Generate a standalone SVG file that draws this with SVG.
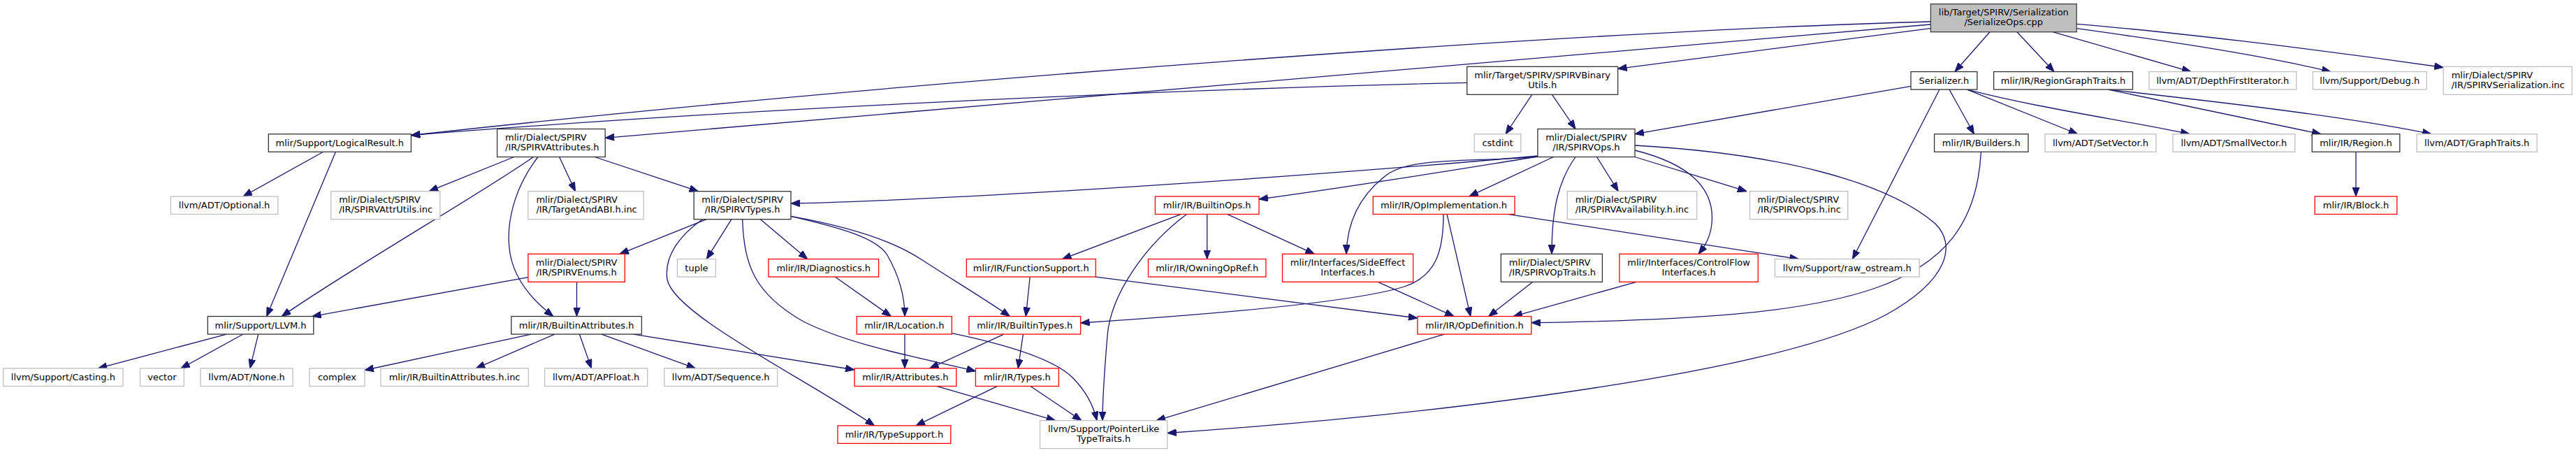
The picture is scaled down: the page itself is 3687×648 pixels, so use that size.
<svg xmlns="http://www.w3.org/2000/svg" width="3687" height="648" viewBox="0 0 3687 648">
<defs>
<marker id="ah" markerUnits="userSpaceOnUse" viewBox="0 0 13 10" refX="13" refY="5" markerWidth="13" markerHeight="10" orient="auto">
<path d="M0,0 L13,5 L0,10 z" fill="#191970" stroke="#191970" stroke-width="1"/>
</marker>
<style>
rect{fill:#ffffff;stroke-width:1.3}
.rt{fill:#bfbfbf;stroke:#404040}
.bk{stroke:#333333}
.gy{stroke:#bfbfbf}
.rd{stroke:#ff0000}
text{font-family:"DejaVu Sans","Liberation Sans",sans-serif;font-size:13px;fill:#000000}
.c{text-anchor:middle}
#edges path{fill:none;stroke:#191970;stroke-width:1.3;marker-end:url(#ah)}
</style>
</defs>
<rect x="0" y="0" width="3687" height="648" style="fill:#ffffff;stroke:none"/>
<g id="edges">
<path d="M2763,31 C2250,45 1300,115 588.4,193.5"/>
<path d="M2763,35 L866.2,197.3"/>
<path d="M2763,40.7 L2315.6,98.3"/>
<path d="M2848,45.7 L2798,102.55"/>
<path d="M2887,45.7 L2940,102.55"/>
<path d="M2938,45.7 L3136,102.55"/>
<path d="M2972.2,40.7 C3060,53 3220,75 3336,102.55"/>
<path d="M2972.2,34.3 C3100,45 3300,68 3497.2,96.5"/>
<path d="M2099.7,118.3 C1600,130 1000,160 588.4,193.5"/>
<path d="M2192.7,135.3 L2155,191.75"/>
<path d="M2221.5,135.3 L2255,184.5"/>
<path d="M2735,123.3 L2340,191.7"/>
<path d="M2776,128.05 L2651.5,370.55"/>
<path d="M2790,128.05 L2825.5,191.75"/>
<path d="M2815.6,128.05 L2973.8,191.75"/>
<path d="M2815.6,128.05 C2920,155 3040,172 3134,191.75"/>
<path d="M3017.3,128.05 L3322,191.75"/>
<path d="M3017.3,128.05 C3150,143 3350,165 3480,191.75"/>
<path d="M3372,217.25 L3372,280.95"/>
<path d="M2835.4,217.25 C2825,420 2650,455 2191.8,461.7"/>
<path d="M462.6,217.25 L348,280.95"/>
<path d="M480.4,217.25 L381.6,452.55"/>
<path d="M735.7,224.5 L614,273.7"/>
<path d="M763.4,224.5 C700,270 500,385 403.3,452.55"/>
<path d="M770,224.5 C735,270 725,320 729,355 C733,395 760,428 792,452.55"/>
<path d="M800.6,224.5 L823.5,273.7"/>
<path d="M851.2,224.5 L999.5,273.7"/>
<path d="M2200.9,223 C1900,250 1400,285 1132,291"/>
<path d="M2200.9,224 C2100,240 1950,265 1802,285"/>
<path d="M2200.9,224.3 C2100,232 2020,225 1985,250 C1945,280 1928,320 1927,363.3"/>
<path d="M2223.4,224.5 L2102.8,280.95"/>
<path d="M2255,224.5 C2230,260 2221,300 2221,363.3"/>
<path d="M2285.5,224.5 L2316.3,273.7"/>
<path d="M2340,224.5 L2500,273.7"/>
<path d="M2340,215 C2420,235 2455,270 2450,320 C2448,340 2440,352 2431,363.3"/>
<path d="M2340,208 C2550,220 2700,260 2770,320 C2800,350 2790,400 2700,450 C2550,530 2100,590 1670.8,619.5"/>
<path d="M1690.5,306.45 L1520.5,370.55"/>
<path d="M1698.4,306.45 C1640,350 1590,420 1585,480 C1580,540 1578,570 1578,601.6"/>
<path d="M1727.7,306.45 L1727.7,370.55"/>
<path d="M1756.6,306.45 L1881.4,363.3"/>
<path d="M2071,306.45 L2104.8,452.55"/>
<path d="M2066,306.45 C2066,360 2055,395 2010,410 C1930,435 1700,452 1546.6,462"/>
<path d="M2158.2,306.45 L2574.4,370.55"/>
<path d="M1474.2,396.05 L1468.3,452.55"/>
<path d="M1568.3,396.05 L2028.9,455"/>
<path d="M1972.3,403.3 L2081,452.55"/>
<path d="M2193.8,403.3 L2130.6,452.55"/>
<path d="M2342,403.3 L2166,452.55"/>
<path d="M2067.2,478.05 L1655,601.6"/>
<path d="M1011.3,313.7 L887,363.3"/>
<path d="M1005.4,313.7 C975,335 950,365 955,400 C965,450 1150,540 1251.6,608.85"/>
<path d="M1047,313.7 L1011.3,370.55"/>
<path d="M1062.7,313.7 C1065,380 1080,420 1150,460 C1220,495 1320,512 1396.4,531"/>
<path d="M1088.4,313.7 L1155.7,370.55"/>
<path d="M1132,309.3 C1200,325 1255,340 1270,365 C1290,400 1295,430 1295,452.55"/>
<path d="M1132,309.3 C1220,325 1280,345 1320,372 C1360,398 1410,428 1445.4,452.55"/>
<path d="M1195.2,396.05 L1275.4,452.55"/>
<path d="M825.5,403.3 L825.5,452.55"/>
<path d="M755.9,396.7 L446.8,452.55"/>
<path d="M324.2,478.05 L140.4,526.95"/>
<path d="M348,478.05 L259,526.95"/>
<path d="M369.7,478.05 L357.8,526.95"/>
<path d="M760.3,478.05 L522,529.5"/>
<path d="M793.9,478.05 L681.2,526.95"/>
<path d="M829.4,478.05 L846.5,526.95"/>
<path d="M861,478.05 L995.5,526.95"/>
<path d="M906.6,478.05 L1223,529"/>
<path d="M1295,478.05 L1295,526.95"/>
<path d="M1362.3,476.7 C1450,495 1510,515 1535,540 C1555,560 1565,580 1570,601.6"/>
<path d="M1436.7,478.05 L1330.7,526.95"/>
<path d="M1464.4,478.05 L1457.2,526.95"/>
<path d="M1340.6,552.45 L1510.6,601.6"/>
<path d="M1475,552.45 L1548,601.6"/>
<path d="M1427.6,552.45 L1311,608.85"/>
</g>
<g id="n_root"><rect class="rt" x="2763.4" y="5.7" width="208.8" height="40"/><text class="c"><tspan x="2867.8" y="22.2">lib/Target/SPIRV/Serialization</tspan><tspan x="2867.8" y="36.2">/SerializeOps.cpp</tspan></text></g>
<g id="n_logres"><rect class="bk" x="384.3" y="191.75" width="204.1" height="25.5"/><text class="c" x="486.35" y="209">mlir/Support/LogicalResult.h</text></g>
<g id="n_spirvattr"><rect class="bk" x="711.6" y="184.5" width="154.6" height="40"/><text><tspan x="723.1" y="201">mlir/Dialect/SPIRV</tspan><tspan x="723.1" y="215">/IR/SPIRVAttributes.h</tspan></text></g>
<g id="n_binutils"><rect class="bk" x="2099.7" y="95.3" width="215.9" height="40"/><text class="c"><tspan x="2207.65" y="111.8">mlir/Target/SPIRV/SPIRVBinary</tspan><tspan x="2207.65" y="125.8">Utils.h</tspan></text></g>
<g id="n_serializer"><rect class="bk" x="2735" y="102.55" width="94.9" height="25.5"/><text class="c" x="2782.45" y="119.8">Serializer.h</text></g>
<g id="n_rgt"><rect class="bk" x="2853.6" y="102.55" width="198.9" height="25.5"/><text class="c" x="2953.05" y="119.8">mlir/IR/RegionGraphTraits.h</text></g>
<g id="n_dfi"><rect class="gy" x="3076" y="102.55" width="210.8" height="25.5"/><text class="c" x="3181.4" y="119.8">llvm/ADT/DepthFirstIterator.h</text></g>
<g id="n_debug"><rect class="gy" x="3310.4" y="102.55" width="162.8" height="25.5"/><text class="c" x="3391.8" y="119.8">llvm/Support/Debug.h</text></g>
<g id="n_serinc"><rect class="gy" x="3497.2" y="95.3" width="184" height="40"/><text><tspan x="3508.7" y="111.8">mlir/Dialect/SPIRV</tspan><tspan x="3508.7" y="125.8">/IR/SPIRVSerialization.inc</tspan></text></g>
<g id="n_optional"><rect class="gy" x="244.4" y="280.95" width="153.4" height="25.5"/><text class="c" x="321.1" y="298.2">llvm/ADT/Optional.h</text></g>
<g id="n_llvm"><rect class="bk" x="297.3" y="452.55" width="151.5" height="25.5"/><text class="c" x="373.05" y="469.8">mlir/Support/LLVM.h</text></g>
<g id="n_attrutils"><rect class="gy" x="473.7" y="273.7" width="156.1" height="40"/><text><tspan x="485.2" y="290.2">mlir/Dialect/SPIRV</tspan><tspan x="485.2" y="304.2">/IR/SPIRVAttrUtils.inc</tspan></text></g>
<g id="n_builtinattrs"><rect class="bk" x="731.8" y="452.55" width="186.6" height="25.5"/><text class="c" x="825.1" y="469.8">mlir/IR/BuiltinAttributes.h</text></g>
<g id="n_targetabi"><rect class="gy" x="755.9" y="273.7" width="165.3" height="40"/><text><tspan x="767.4" y="290.2">mlir/Dialect/SPIRV</tspan><tspan x="767.4" y="304.2">/IR/TargetAndABI.h.inc</tspan></text></g>
<g id="n_spirvtypes"><rect class="bk" x="993.2" y="273.7" width="138.8" height="40"/><text class="c"><tspan x="1062.6" y="290.2">mlir/Dialect/SPIRV</tspan><tspan x="1062.6" y="304.2">/IR/SPIRVTypes.h</tspan></text></g>
<g id="n_cstdint"><rect class="gy" x="2110.3" y="191.75" width="66.5" height="25.5"/><text class="c" x="2143.55" y="209">cstdint</text></g>
<g id="n_spirvops"><rect class="bk" x="2200.9" y="184.5" width="139.1" height="40"/><text class="c"><tspan x="2270.45" y="201">mlir/Dialect/SPIRV</tspan><tspan x="2270.45" y="215">/IR/SPIRVOps.h</tspan></text></g>
<g id="n_builders"><rect class="bk" x="2768.6" y="191.75" width="134.4" height="25.5"/><text class="c" x="2835.8" y="209">mlir/IR/Builders.h</text></g>
<g id="n_setvector"><rect class="gy" x="2927" y="191.75" width="159" height="25.5"/><text class="c" x="3006.5" y="209">llvm/ADT/SetVector.h</text></g>
<g id="n_smallvector"><rect class="gy" x="3110" y="191.75" width="174.8" height="25.5"/><text class="c" x="3197.4" y="209">llvm/ADT/SmallVector.h</text></g>
<g id="n_region"><rect class="bk" x="3309.2" y="191.75" width="125.6" height="25.5"/><text class="c" x="3372" y="209">mlir/IR/Region.h</text></g>
<g id="n_graphtraits"><rect class="gy" x="3459.2" y="191.75" width="172" height="25.5"/><text class="c" x="3545.2" y="209">llvm/ADT/GraphTraits.h</text></g>
<g id="n_builtinops"><rect class="rd" x="1653.4" y="280.95" width="148.6" height="25.5"/><text class="c" x="1727.7" y="298.2">mlir/IR/BuiltinOps.h</text></g>
<g id="n_opimpl"><rect class="rd" x="1965.2" y="280.95" width="202.8" height="25.5"/><text class="c" x="2066.6" y="298.2">mlir/IR/OpImplementation.h</text></g>
<g id="n_availability"><rect class="gy" x="2243.2" y="273.7" width="185.5" height="40"/><text><tspan x="2254.7" y="290.2">mlir/Dialect/SPIRV</tspan><tspan x="2254.7" y="304.2">/IR/SPIRVAvailability.h.inc</tspan></text></g>
<g id="n_opsinc"><rect class="gy" x="2504.5" y="273.7" width="140.3" height="40"/><text><tspan x="2515.5" y="290.2">mlir/Dialect/SPIRV</tspan><tspan x="2515.5" y="304.2">/IR/SPIRVOps.h.inc</tspan></text></g>
<g id="n_block"><rect class="rd" x="3313.2" y="280.95" width="117.6" height="25.5"/><text class="c" x="3372" y="298.2">mlir/IR/Block.h</text></g>
<g id="n_enums"><rect class="rd" x="755.9" y="363.3" width="138.4" height="40"/><text class="c"><tspan x="825.1" y="379.8">mlir/Dialect/SPIRV</tspan><tspan x="825.1" y="393.8">/IR/SPIRVEnums.h</tspan></text></g>
<g id="n_tuple"><rect class="gy" x="969.4" y="370.55" width="55" height="25.5"/><text class="c" x="996.9" y="387.8">tuple</text></g>
<g id="n_diagnostics"><rect class="rd" x="1099.9" y="370.55" width="157.7" height="25.5"/><text class="c" x="1178.75" y="387.8">mlir/IR/Diagnostics.h</text></g>
<g id="n_funcsupport"><rect class="rd" x="1383.3" y="370.55" width="185" height="25.5"/><text class="c" x="1475.8" y="387.8">mlir/IR/FunctionSupport.h</text></g>
<g id="n_owning"><rect class="rd" x="1643.5" y="370.55" width="168.4" height="25.5"/><text class="c" x="1727.7" y="387.8">mlir/IR/OwningOpRef.h</text></g>
<g id="n_sideeffect"><rect class="rd" x="1835.5" y="363.3" width="187.1" height="40"/><text class="c"><tspan x="1929.05" y="379.8">mlir/Interfaces/SideEffect</tspan><tspan x="1929.05" y="393.8">Interfaces.h</tspan></text></g>
<g id="n_optraits"><rect class="bk" x="2148.3" y="363.3" width="145.1" height="40"/><text><tspan x="2159.8" y="379.8">mlir/Dialect/SPIRV</tspan><tspan x="2159.8" y="393.8">/IR/SPIRVOpTraits.h</tspan></text></g>
<g id="n_controlflow"><rect class="rd" x="2317.9" y="363.3" width="198.4" height="40"/><text class="c"><tspan x="2417.1" y="379.8">mlir/Interfaces/ControlFlow</tspan><tspan x="2417.1" y="393.8">Interfaces.h</tspan></text></g>
<g id="n_rawostream"><rect class="gy" x="2540.4" y="370.55" width="206.8" height="25.5"/><text class="c" x="2643.8" y="387.8">llvm/Support/raw_ostream.h</text></g>
<g id="n_location"><rect class="rd" x="1226.3" y="452.55" width="136" height="25.5"/><text class="c" x="1294.3" y="469.8">mlir/IR/Location.h</text></g>
<g id="n_builtintypes"><rect class="rd" x="1386.9" y="452.55" width="159.7" height="25.5"/><text class="c" x="1466.75" y="469.8">mlir/IR/BuiltinTypes.h</text></g>
<g id="n_opdef"><rect class="rd" x="2028.9" y="452.55" width="162.9" height="25.5"/><text class="c" x="2110.35" y="469.8">mlir/IR/OpDefinition.h</text></g>
<g id="n_casting"><rect class="gy" x="4.7" y="526.95" width="171.3" height="25.5"/><text class="c" x="90.35" y="544.2">llvm/Support/Casting.h</text></g>
<g id="n_vector"><rect class="gy" x="200.5" y="526.95" width="62.8" height="25.5"/><text class="c" x="231.9" y="544.2">vector</text></g>
<g id="n_none"><rect class="gy" x="287" y="526.95" width="132.1" height="25.5"/><text class="c" x="353.05" y="544.2">llvm/ADT/None.h</text></g>
<g id="n_complex"><rect class="gy" x="442.9" y="526.95" width="79.1" height="25.5"/><text class="c" x="482.45" y="544.2">complex</text></g>
<g id="n_baincl"><rect class="gy" x="544.9" y="526.95" width="211.4" height="25.5"/><text class="c" x="650.6" y="544.2">mlir/IR/BuiltinAttributes.h.inc</text></g>
<g id="n_apfloat"><rect class="gy" x="779.6" y="526.95" width="147.1" height="25.5"/><text class="c" x="853.15" y="544.2">llvm/ADT/APFloat.h</text></g>
<g id="n_sequence"><rect class="gy" x="950.8" y="526.95" width="161.8" height="25.5"/><text class="c" x="1031.7" y="544.2">llvm/ADT/Sequence.h</text></g>
<g id="n_attributes"><rect class="rd" x="1223" y="526.95" width="145.7" height="25.5"/><text class="c" x="1295.85" y="544.2">mlir/IR/Attributes.h</text></g>
<g id="n_types"><rect class="rd" x="1396.4" y="526.95" width="119" height="25.5"/><text class="c" x="1455.9" y="544.2">mlir/IR/Types.h</text></g>
<g id="n_typesupport"><rect class="rd" x="1199" y="608.85" width="161.8" height="25.5"/><text class="c" x="1279.9" y="626.1">mlir/IR/TypeSupport.h</text></g>
<g id="n_pointerlike"><rect class="gy" x="1488.5" y="601.6" width="182.3" height="40"/><text class="c"><tspan x="1579.65" y="618.1">llvm/Support/PointerLike</tspan><tspan x="1579.65" y="632.1">TypeTraits.h</tspan></text></g>
</svg>
